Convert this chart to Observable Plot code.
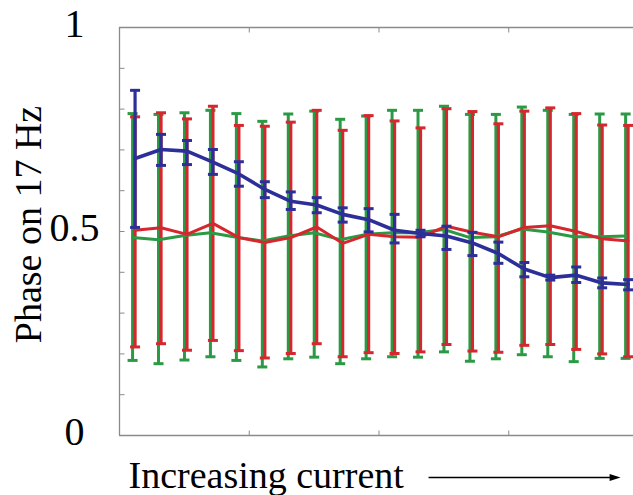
<!DOCTYPE html>
<html>
<head>
<meta charset="utf-8">
<script src="https://cdn.jsdelivr.net/npm/d3@7"></script>
<script src="https://cdn.jsdelivr.net/npm/@observablehq/plot@0.6"></script>
<style>
  html, body { margin: 0; padding: 0; background: #fff; }
  #chart svg { display: block; }
</style>
</head>
<body>
<div id="chart"></div>
<script>
// ---- data ----
const step = [0,1,2,3,4,5,6,7,8,9,10,11,12,13,14,15,16,17,18,19];

const blueMean = [0.679,0.701,0.697,0.670,0.641,0.603,0.574,0.565,0.542,0.529,0.503,0.495,0.489,0.472,0.446,0.408,0.387,0.393,0.374,0.370];
const blueLo   = [0.510,0.662,0.664,0.640,0.611,0.583,0.554,0.546,0.523,0.499,0.472,0.487,0.456,0.441,0.422,0.389,0.381,0.375,0.362,0.357];
const blueHi   = [0.846,0.738,0.723,0.701,0.671,0.622,0.597,0.583,0.558,0.556,0.542,0.503,0.513,0.498,0.474,0.424,0.393,0.413,0.386,0.382];

const greenMean = [0.485,0.480,0.490,0.497,0.486,0.477,0.489,0.497,0.480,0.493,0.497,0.497,0.505,0.485,0.487,0.506,0.499,0.487,0.487,0.489];
const greenLo   = [0.184,0.176,0.185,0.193,0.184,0.168,0.188,0.192,0.176,0.188,0.193,0.192,0.205,0.182,0.188,0.198,0.193,0.181,0.189,0.189];
const greenHi   = [0.789,0.787,0.791,0.797,0.789,0.770,0.788,0.795,0.775,0.783,0.797,0.797,0.807,0.787,0.787,0.805,0.797,0.787,0.788,0.788];

const redMean = [0.503,0.509,0.493,0.520,0.485,0.473,0.485,0.511,0.471,0.493,0.487,0.486,0.513,0.498,0.487,0.510,0.514,0.500,0.482,0.477];
const redLo   = [0.217,0.225,0.209,0.233,0.208,0.190,0.201,0.225,0.193,0.203,0.201,0.205,0.223,0.207,0.204,0.221,0.223,0.211,0.200,0.193];
const redHi   = [0.781,0.791,0.776,0.807,0.760,0.758,0.768,0.797,0.748,0.784,0.771,0.754,0.801,0.794,0.764,0.795,0.803,0.789,0.761,0.760];

const xDomain = [-0.6, 19.4];
const xTicks = [4.4, 9.4, 14.4];
const yLabelTicks = [0, 0.5, 1];
const yTickText = ["0", "0.5", "1"];
const yMinorTicks = [0.1,0.2,0.3,0.4,0.5,0.6,0.7,0.8,0.9];
const yLabel = "Phase on 17 Hz";
const xLabel = "Increasing current";
const arrowX = [11.31, 18.71];
const arrowY = -0.103;

// ---- styling ----
const BLUE = "#2d2f98", GREEN = "#2b9a44", RED = "#d6272e", FRAME = "#8a8a8a";
const FONT = "'Liberation Serif', 'Times New Roman', serif";

const table = (mean, lo, hi) => step.map((s, i) => ({s, mean: mean[i], lo: lo[i], hi: hi[i]}));
const blue = table(blueMean, blueLo, blueHi);
const green = table(greenMean, greenLo, greenHi);
const red = table(redMean, redLo, redHi);

const rad = size => Math.sqrt(size / Math.PI);
const capSym    = {draw(c, s) { const r = rad(s); c.moveTo(-r, 0); c.lineTo(r, 0); }};
const tickRight = {draw(c, s) { const r = rad(s); c.moveTo(0, 0); c.lineTo(r, 0); }};
const tickLeft  = {draw(c, s) { const r = rad(s); c.moveTo(0, 0); c.lineTo(-r, 0); }};
const tickUp    = {draw(c, s) { const r = rad(s); c.moveTo(0, 0); c.lineTo(0, -r); }};
const tickDown  = {draw(c, s) { const r = rad(s); c.moveTo(0, 0); c.lineTo(0, r); }};
const headSym   = {draw(c, s) { const r = rad(s); c.moveTo(0, 0); c.lineTo(-2.2 * r, -0.7 * r); c.lineTo(-2.2 * r, 0.7 * r); c.closePath(); }};

function errorMarks(data, color, dx, barWidth) {
  return [
    Plot.ruleX(data, {x: "s", y1: "lo", y2: "hi", stroke: color, strokeWidth: barWidth, dx}),
    Plot.dot(data, {x: "s", y: "hi", symbol: capSym, r: 5, stroke: color, fill: "none", strokeWidth: 3, dx}),
    Plot.dot(data, {x: "s", y: "lo", symbol: capSym, r: 5, stroke: color, fill: "none", strokeWidth: 3, dx})
  ];
}

const chart = Plot.plot({
  width: 633,
  height: 495,
  marginLeft: 119,
  marginTop: 27,
  marginBottom: 60,
  marginRight: 0,
  style: {fontFamily: FONT, background: "#fff", color: "#000"},
  x: {domain: xDomain, range: [119, 638], axis: null},
  y: {domain: [0, 1], range: [435, 27]},
  marks: [
    // frame
    Plot.ruleX([xDomain[0]], {stroke: FRAME, strokeWidth: 1.3}),
    Plot.ruleY([0, 1], {stroke: FRAME, strokeWidth: 1.3}),
    // inward ticks
    Plot.dot(yMinorTicks, {x: xDomain[0], y: d => d, symbol: tickRight, r: 5, stroke: FRAME, fill: "none", strokeWidth: 1}),
    Plot.dot(yMinorTicks, {x: xDomain[1], y: d => d, symbol: tickLeft, r: 5, stroke: FRAME, fill: "none", strokeWidth: 1}),
    Plot.dot(xTicks, {x: d => d, y: 0, symbol: tickUp, r: 5, stroke: FRAME, fill: "none", strokeWidth: 1}),
    Plot.dot(xTicks, {x: d => d, y: 1, symbol: tickDown, r: 5, stroke: FRAME, fill: "none", strokeWidth: 1}),
    // y tick labels
    Plot.axisY({ticks: yLabelTicks, tickFormat: d => yTickText[yLabelTicks.indexOf(d)], tickSize: 0, tickPadding: 45, textAnchor: "middle", fontSize: 40, fontFamily: FONT, dy: -3, label: null}),
    // error bars
    ...errorMarks(green, GREEN, -2.5, 3),
    ...errorMarks(red, RED, 0, 3.2),
    Plot.line(green, {x: "s", y: "mean", stroke: GREEN, strokeWidth: 3, dx: -2.5}),
    Plot.line(red, {x: "s", y: "mean", stroke: RED, strokeWidth: 3}),
    ...errorMarks(blue, BLUE, 0, 3.2),
    Plot.line(blue, {x: "s", y: "mean", stroke: BLUE, strokeWidth: 3.6}),
    // axis titles
    Plot.text([yLabel], {frameAnchor: "left", textAnchor: "middle", rotate: -90, dx: -91, dy: -7, fontSize: 38, fontFamily: FONT, fill: "#000", lineAnchor: "middle"}),
    Plot.text([xLabel], {frameAnchor: "bottom-left", textAnchor: "start", lineAnchor: "bottom", dx: 9, dy: 52, fontSize: 38, fontFamily: FONT, fill: "#000"}),
    Plot.link([0], {x1: arrowX[0], x2: arrowX[1] - 0.3, y1: arrowY, y2: arrowY, stroke: "#000", strokeWidth: 1.6}),
    Plot.dot([0], {x: arrowX[1], y: arrowY, symbol: headSym, r: 5, fill: "#000", stroke: "none"})
  ]
});
document.getElementById("chart").append(chart);
</script>
</body>
</html>
